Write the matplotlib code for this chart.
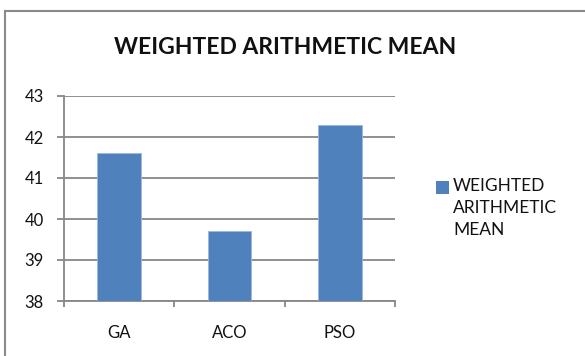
import matplotlib
matplotlib.use("Agg")
import matplotlib.pyplot as plt
from matplotlib.lines import Line2D
from matplotlib.patches import Rectangle

categories = ["GA", "ACO", "PSO"]
values = [41.6, 39.7, 42.3]
series_name = "WEIGHTED\nARITHMETIC\nMEAN"
title = "WEIGHTED ARITHMETIC MEAN"
y_ticks = [38, 39, 40, 41, 42, 43]

W, H = 585, 356
plt.rcParams["font.family"] = ["Lato", "DejaVu Sans"]

fig = plt.figure(figsize=(W / 100, H / 100), dpi=100)
fig.patch.set_facecolor("white")

# axes box in pixel terms
left, right, top, bottom = 64, 395, 96, 301
ax = fig.add_axes([left / W, 1 - bottom / H, (right - left) / W, (bottom - top) / H])

gray = "#878787"
bar_color = "#4F81BD"
text_color = "#111111"

x = list(range(len(categories)))
ax.bar(x, values, width=0.395, bottom=0, color=bar_color,
       edgecolor="#9DB6DA", linewidth=0.6, zorder=3)

ax.set_xlim(-0.5, len(categories) - 0.5)
ax.set_ylim(y_ticks[0], y_ticks[-1])
ax.set_yticks(y_ticks)
ax.set_yticklabels([str(v) for v in y_ticks], fontsize=12, color=text_color)
ax.yaxis.grid(True, color=gray, linewidth=1.3, zorder=0)

ax.set_xticks(x)
ax.set_xticklabels(categories, fontsize=12, color=text_color)
ax.set_xticks([i - 0.5 for i in range(len(categories) + 1)], minor=True)
ax.tick_params(axis="x", which="major", length=0, pad=17)
ax.tick_params(axis="x", which="minor", length=4, width=1.3, color=gray, direction="out")
ax.tick_params(axis="y", length=5, width=1.3, color=gray, direction="out", pad=9.5)

for side in ("top", "right"):
    ax.spines[side].set_visible(False)
for side in ("left", "bottom"):
    ax.spines[side].set_color(gray)
    ax.spines[side].set_linewidth(1.3)

fig.text(285 / W, 1 - 48 / H, title, ha="center", va="center",
         fontsize=16.5, fontweight="bold", color=text_color)

# legend: swatch beside the first line of the series name
fig.add_artist(Rectangle((436 / W, 1 - 194 / H), 13 / W, 13 / H, facecolor=bar_color,
                         edgecolor="none", transform=fig.transFigure))
fig.text(453 / W, 1 - 178 / H, series_name, ha="left", va="top", fontsize=12.5,
         color=text_color, linespacing=1.45)

# chart frame (top and left edges)
fig.add_artist(Line2D([5 / W, 1], [1 - 11 / H, 1 - 11 / H], color="#8a8a8a", linewidth=1.5,
                      transform=fig.transFigure))
fig.add_artist(Line2D([5 / W, 5 / W], [0, 1 - 11 / H], color="#8a8a8a", linewidth=1.5,
                      transform=fig.transFigure))

fig.savefig("out.png", dpi=100, facecolor="white")
